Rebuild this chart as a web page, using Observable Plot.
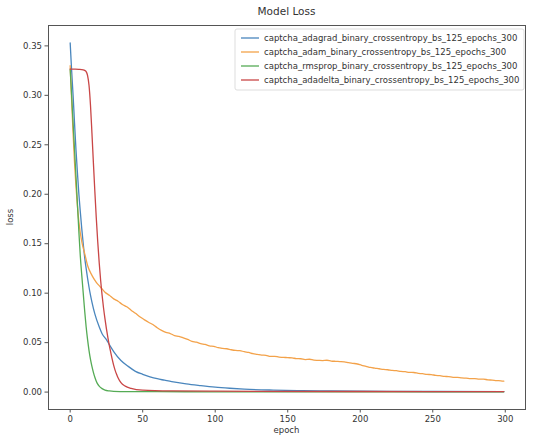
<!DOCTYPE html>
<html>
<head>
<meta charset="utf-8">
<script src="https://cdn.jsdelivr.net/npm/d3@7"></script>
<script src="https://cdn.jsdelivr.net/npm/@observablehq/plot@0.6"></script>
<style>
  html, body { margin: 0; padding: 0; background: #fff; }
  #chart svg { display: block; }
</style>
</head>
<body>
<div id="chart"></div>
<script>
// ---- data ----
const seriesNames = [
  "captcha_adagrad_binary_crossentropy_bs_125_epochs_300",
  "captcha_adam_binary_crossentropy_bs_125_epochs_300",
  "captcha_rmsprop_binary_crossentropy_bs_125_epochs_300",
  "captcha_adadelta_binary_crossentropy_bs_125_epochs_300"
];
const seriesColors = ["#4a86bd", "#f3a24a", "#55ab55", "#c94646"];

const adagradEpochs = [0,1,2,3,4,5,6,7,8,9,10,11,12,13,14,15,17,20,22,25,27,30,35,40,45,50,55,60,65,70,80,90,100,110,120,140,160,180,200,250,299];
const adagradLoss   = [0.353,0.325,0.30,0.272,0.245,0.222,0.20,0.182,0.165,0.15,0.136,0.125,0.115,0.106,0.098,0.091,0.079,0.066,0.059,0.053,0.048,0.041,0.032,0.026,0.021,0.018,0.0155,0.0135,0.012,0.0105,0.0082,0.0065,0.005,0.0039,0.003,0.002,0.0014,0.0011,0.0009,0.0006,0.0004];

const adamEpochs = [0,1,2,3,4,5,6,8,10,12,15,18,21,24,27,30,33,36,39,42,45,48,51,54,57,60,63,66,69,72,75,78,81,84,87,90,93,96,99,102,105,108,111,114,117,120,123,126,129,132,135,138,141,144,147,150,153,156,159,162,165,168,171,174,177,180,183,186,189,192,195,198,201,204,207,210,213,216,219,222,225,228,231,234,237,240,243,246,249,252,255,258,261,264,267,270,273,276,279,282,285,288,291,294,297,299];
const adamLoss = [0.330,0.295,0.262,0.232,0.208,0.188,0.172,0.152,0.14,0.128,0.118,0.111,0.106,0.1010,0.0978,0.0942,0.0918,0.0886,0.0862,0.0828,0.0796,0.0762,0.0733,0.0706,0.0683,0.0651,0.0624,0.0603,0.0592,0.0571,0.0563,0.0548,0.0532,0.0513,0.0504,0.0489,0.0482,0.0468,0.0463,0.0449,0.0442,0.0438,0.0428,0.0421,0.0419,0.0408,0.0401,0.0389,0.0382,0.0374,0.0372,0.0361,0.0362,0.0353,0.0351,0.0348,0.0346,0.0338,0.0337,0.0329,0.0332,0.0323,0.0321,0.0319,0.0322,0.0314,0.0311,0.0309,0.0306,0.0298,0.0291,0.0284,0.0271,0.0261,0.0249,0.0242,0.0236,0.0229,0.0226,0.0219,0.0216,0.0209,0.0206,0.0199,0.0198,0.0189,0.0186,0.0179,0.0177,0.0169,0.0166,0.0159,0.0156,0.0149,0.0148,0.0143,0.0141,0.0137,0.0136,0.0132,0.0131,0.0124,0.0121,0.0116,0.0114,0.0110];

const rmspropEpochs = [0,1,2,3,4,5,6,7,8,9,10,11,12,13,14,15,16,17,18,19,20,22,24,27,30,40,60,100,200,299];
const rmspropLoss   = [0.326,0.30,0.272,0.245,0.218,0.19,0.162,0.137,0.118,0.10,0.082,0.066,0.053,0.042,0.033,0.026,0.02,0.015,0.011,0.008,0.006,0.0035,0.002,0.0012,0.0008,0.0005,0.0004,0.0003,0.0003,0.0003];

const adadeltaEpochs = [0,3,6,9,10,11,12,13,14,15,16,17,18,19,20,21,22,23,24,25,26,27,28,29,30,31,32,33,35,38,42,50,70,100,200,299];
const adadeltaLoss   = [0.3266,0.3265,0.3263,0.3258,0.3252,0.324,0.32,0.31,0.29,0.262,0.232,0.203,0.176,0.152,0.131,0.113,0.098,0.085,0.074,0.064,0.055,0.047,0.04,0.033,0.027,0.022,0.018,0.0145,0.0095,0.006,0.0038,0.002,0.0012,0.0009,0.0006,0.0005];

const xTicks = [0,50,100,150,200,250,300];
const yTicks = [0.00,0.05,0.10,0.15,0.20,0.25,0.30,0.35];

// ---- build table ----
const epochLists = [adagradEpochs, adamEpochs, rmspropEpochs, adadeltaEpochs];
const lossLists  = [adagradLoss, adamLoss, rmspropLoss, adadeltaLoss];
const rows = [];
seriesNames.forEach((name, i) => {
  epochLists[i].forEach((e, j) => rows.push({series: name, epoch: e, loss: lossLists[i][j]}));
});

const W = 533, H = 436;
const mL = 48, mR = 8, mT = 25, mB = 27;
const font = "DejaVu Sans, sans-serif";

const plot = Plot.plot({
  width: W,
  height: H,
  marginLeft: mL,
  marginRight: mR,
  marginTop: mT,
  marginBottom: mB,
  style: {fontFamily: font, fontSize: "8.5px", color: "#333", background: "#fff"},
  x: {domain: [-14.95, 313.95], ticks: xTicks, label: null},
  y: {domain: [-0.0176, 0.3706], ticks: yTicks, label: null},
  color: {domain: seriesNames, range: seriesColors},
  marks: [
    Plot.line(rows, {x: "epoch", y: "loss", z: "series", stroke: "series", strokeWidth: 1.3, curve: "monotone-x"}),
    Plot.frame({stroke: "#555", strokeWidth: 1}),
    Plot.axisX({ticks: xTicks, tickSize: 3.5, tickPadding: 3, label: null, stroke: "#555"}),
    Plot.axisY({ticks: yTicks, tickSize: 3.5, tickPadding: 3, tickFormat: d3.format(".2f"), label: null, stroke: "#555"})
  ]
});

document.getElementById("chart").appendChild(plot);

// ---- title, axis labels, legend ----
const svg = d3.select(plot);
const cx = mL + (W - mL - mR) / 2;
svg.append("text").attr("x", cx).attr("y", 15).attr("text-anchor", "middle")
  .attr("font-family", font).attr("font-size", "10.5px").attr("fill", "#333").text("Model Loss");
svg.append("text").attr("x", cx).attr("y", H - 3).attr("text-anchor", "middle")
  .attr("font-family", font).attr("font-size", "8.5px").attr("fill", "#333").text("epoch");
svg.append("text").attr("transform", `translate(13,${mT + (H - mT - mB) / 2}) rotate(-90)`)
  .attr("text-anchor", "middle").attr("font-family", font).attr("font-size", "8.5px").attr("fill", "#333").text("loss");

const lg = svg.append("g").attr("transform", "translate(235,29)");
lg.append("rect").attr("width", 289).attr("height", 61).attr("rx", 2)
  .attr("fill", "#fff").attr("fill-opacity", 0.85).attr("stroke", "#ddd");
seriesNames.forEach((name, i) => {
  const y = 9 + i * 14;
  lg.append("line").attr("x1", 6).attr("x2", 24).attr("y1", y).attr("y2", y)
    .attr("stroke", seriesColors[i]).attr("stroke-width", 1.3);
  lg.append("text").attr("x", 29).attr("y", y).attr("dy", "0.35em").attr("text-anchor", "start")
    .attr("font-family", font).attr("font-size", "8.5px").attr("fill", "#333").text(name);
});
</script>
</body>
</html>
